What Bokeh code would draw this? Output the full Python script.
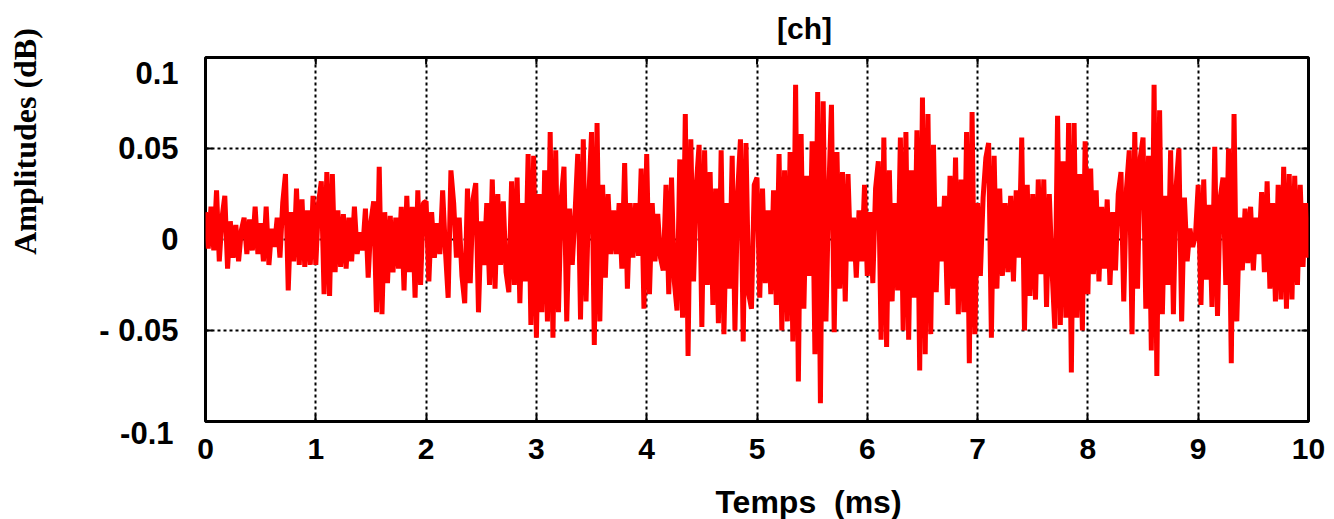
import numpy as np
from bokeh.plotting import figure
from bokeh.models import Range1d, Label, FixedTicker
from bokeh.embed import file_html
from bokeh.resources import INLINE

# sample step (ms) of the recorded signal
dt = 0.025

# amplitudes, one list per millisecond
amp_0_1ms = [0.015, -0.005, 0.018, -0.006, 0.027, -0.012, 0.012, 0.024, -0.016, 0.010,
             -0.010, 0.008, -0.012, 0.005, 0.012, -0.008, 0.011, -0.006, 0.018, -0.008,
             0.009, -0.012, 0.018, -0.014, 0.006, -0.004, 0.012, -0.010, 0.020, 0.036,
             -0.028, 0.015, -0.012, 0.028, -0.014, 0.022, -0.015, 0.016, -0.014, 0.024]
amp_1_2ms = [-0.014, 0.020, 0.032, -0.030, 0.037, -0.031, 0.036, -0.018, 0.016, -0.015,
             0.014, -0.016, 0.012, -0.012, 0.018, -0.008, 0.004, -0.006, 0.017, -0.021,
             0.010, 0.021, -0.040, 0.040, -0.041, 0.015, -0.024, 0.013, -0.018, 0.012,
             -0.016, 0.018, -0.028, 0.024, -0.018, 0.018, -0.032, 0.027, -0.025, 0.020]
amp_2_3ms = [0.021, -0.023, 0.015, -0.010, 0.009, -0.008, 0.027, -0.006, -0.032, 0.038,
             0.020, -0.010, 0.012, -0.020, -0.035, 0.028, -0.024, 0.022, 0.031, -0.040,
             0.010, -0.014, 0.020, -0.025, 0.033, -0.027, 0.025, -0.014, 0.021, -0.018,
             -0.029, 0.032, -0.025, 0.034, -0.035, 0.020, -0.023, 0.047, -0.047, 0.046]
amp_3_4ms = [-0.054, 0.025, -0.040, 0.038, -0.045, 0.059, -0.054, 0.049, -0.040, 0.022,
             0.040, -0.045, 0.017, -0.014, 0.014, 0.047, -0.044, 0.055, -0.034, 0.023,
             0.059, -0.058, 0.064, -0.045, 0.030, -0.021, 0.025, -0.008, 0.016, -0.008,
             0.020, -0.016, 0.042, -0.027, 0.020, -0.010, 0.020, -0.009, 0.039, -0.038]
amp_4_5ms = [0.047, -0.030, 0.020, -0.012, 0.014, -0.010, -0.017, 0.030, -0.030, 0.034,
             -0.023, -0.039, 0.044, -0.043, 0.069, -0.064, 0.055, -0.023, 0.030, 0.052,
             -0.048, 0.049, -0.025, 0.037, -0.036, 0.028, -0.046, 0.049, -0.052, 0.020,
             -0.027, 0.046, -0.050, 0.026, 0.055, -0.056, 0.053, -0.030, -0.038, 0.030]
amp_5_6ms = [0.034, -0.032, 0.028, -0.024, 0.016, -0.030, 0.027, -0.036, 0.047, -0.050,
             0.038, -0.045, 0.048, -0.056, 0.085, -0.078, 0.058, -0.038, 0.035, -0.020,
             0.054, -0.063, 0.081, -0.090, 0.076, -0.045, 0.024, 0.074, -0.051, 0.048,
             -0.027, 0.037, -0.034, 0.036, -0.012, 0.012, -0.021, 0.016, -0.012, 0.030]
amp_6_7ms = [-0.020, 0.015, -0.024, 0.028, 0.043, -0.055, 0.056, -0.059, 0.038, -0.034,
             0.020, -0.028, 0.056, -0.050, 0.059, -0.055, 0.038, -0.032, 0.060, -0.072,
             0.078, -0.063, 0.069, -0.052, 0.052, -0.029, 0.018, -0.012, 0.024, -0.036,
             0.035, -0.027, 0.045, -0.041, 0.033, -0.040, 0.059, -0.068, 0.070, -0.052]
amp_7_8ms = [0.020, -0.020, 0.023, 0.045, 0.053, -0.054, 0.046, -0.027, 0.028, -0.020,
             0.020, -0.018, 0.024, -0.023, 0.027, -0.010, 0.056, -0.050, 0.030, -0.031,
             0.025, -0.033, 0.033, -0.019, 0.033, -0.037, 0.025, -0.017, -0.049, 0.068,
             -0.047, 0.043, -0.043, 0.064, -0.073, 0.064, -0.043, 0.036, -0.050, 0.054]
amp_8_9ms = [-0.030, 0.039, -0.019, 0.027, -0.023, 0.018, -0.016, 0.022, -0.025, 0.015,
             -0.017, 0.025, 0.037, -0.034, 0.028, 0.049, -0.052, 0.059, -0.027, 0.045,
             0.056, -0.038, 0.046, -0.061, 0.085, -0.075, 0.071, -0.041, 0.024, -0.025,
             0.049, -0.041, 0.029, 0.050, -0.045, 0.023, -0.012, 0.006, -0.004, 0.002]
amp_9_10ms = [0.030, -0.036, 0.033, -0.022, 0.019, -0.037, 0.051, -0.042, 0.023, 0.034,
              -0.025, 0.050, -0.068, 0.069, -0.045, 0.012, -0.017, 0.017, -0.013, 0.018,
              -0.017, 0.012, -0.008, 0.026, -0.018, 0.032, -0.027, 0.020, -0.034, 0.030,
              -0.033, 0.040, -0.038, 0.036, -0.033, 0.035, -0.025, 0.030, -0.015, 0.020,
              -0.010]

amplitude = (amp_0_1ms + amp_1_2ms + amp_2_3ms + amp_3_4ms + amp_4_5ms +
             amp_5_6ms + amp_6_7ms + amp_7_8ms + amp_8_9ms + amp_9_10ms)
time_ms = [i * dt for i in range(len(amplitude))]

x_ticks = [0, 1, 2, 3, 4, 5, 6, 7, 8, 9, 10]
y_ticks = [-0.05, 0, 0.05, 0.1]
y_tick_labels = ["- 0.05", "0", "0.05", "0.1"]
y_bottom_tick = -0.1
y_bottom_label = "-0.1"
y_grid = [-0.05, 0, 0.05]

title_text = "[ch]"
x_label = "Temps\u00a0\u00a0(ms)"
y_label = "Amplitudes (dB)"

W, H = 1334, 519
BL, BR, BT, BB = 205, 26, 57, 98   # borders around the plot frame
frame_h = H - BT - BB
frame_w = W - BL - BR
px_y = 0.2 / frame_h      # data units per pixel
px_x = 10.0 / frame_w


def cx(px):   # canvas pixel column -> data x
    return (px - BL) * px_x


def cy(py):   # canvas pixel row -> data y
    return 0.1 - (py - BT) * px_y


p = figure(width=W, height=H, x_range=Range1d(0, 10), y_range=Range1d(-0.1, 0.1),
           output_backend="svg", toolbar_location=None,
           min_border_left=BL, min_border_right=BR, min_border_top=BT,
           min_border_bottom=BB)
p.background_fill_color = "white"
p.border_fill_color = "white"
p.outline_line_color = "black"
p.outline_line_width = 3
p.outline_line_alpha = 1.0

# inward tick marks at the top, left and right frame edges
n = len(x_ticks)
p.segment(x0=x_ticks, y0=[0.1] * n, x1=x_ticks, y1=[0.1 - 7 * px_y] * n,
          line_color="black", line_width=2)
m = len(y_grid)
p.segment(x0=[10] * m, y0=y_grid, x1=[10 - 7 * px_x] * m, y1=y_grid,
          line_color="black", line_width=2)
p.segment(x0=[0] * m, y0=y_grid, x1=[7 * px_x] * m, y1=y_grid,
          line_color="black", line_width=2)

p.line(time_ms, amplitude, line_color="#ff0000", line_width=5)

FONT = "Liberation Sans"

# x axis
for ax in p.xaxis:
    ax.ticker = FixedTicker(ticks=x_ticks)
    ax.major_label_overrides = {t: str(t) for t in x_ticks}
    ax.major_label_text_font_size = "30px"
    ax.axis_line_color = "black"
    ax.axis_line_width = 3
    ax.major_tick_in = 7
    ax.major_tick_out = 0
    ax.major_tick_line_width = 2
    ax.major_label_standoff = 17

# y axis: the top label sits a little below the frame edge in the original
label_shift = {0.1: -16 * px_y}
y_label_pos = [v + label_shift.get(v, 0.0) for v in y_ticks]
for ax in p.yaxis:
    ax.ticker = FixedTicker(ticks=y_label_pos)
    ax.major_label_overrides = dict(zip(y_label_pos, y_tick_labels))
    ax.major_label_text_font_size = "31px"
    ax.axis_line_color = None
    ax.major_tick_line_color = None
    ax.major_label_standoff = 21

for ax in list(p.xaxis) + list(p.yaxis):
    ax.minor_tick_line_color = None
    ax.major_label_text_font = FONT
    ax.major_label_text_font_style = "bold"
    ax.major_label_text_color = "black"

p.xgrid.ticker = FixedTicker(ticks=x_ticks)
p.ygrid.ticker = FixedTicker(ticks=y_grid)
for g in (p.xgrid, p.ygrid):
    g.grid_line_color = "black"
    g.grid_line_dash = "3 3"
    g.grid_line_width = 2
    g.grid_line_alpha = 1.0

# bottom y label, just below the frame
p.add_layout(Label(x=cx(173), y=y_bottom_tick - 11 * px_y, x_units="data", y_units="data",
                   text=y_bottom_label, text_align="right", text_baseline="middle",
                   text_font=FONT, text_font_style="bold", text_font_size="31px",
                   text_color="black"), "left")

# outer texts
p.add_layout(Label(x=cx(804), y=cy(28), x_units="data", y_units="data", text=title_text,
                   text_align="center", text_baseline="middle", text_font=FONT,
                   text_font_style="bold", text_font_size="30px", text_color="black"),
             "above")
p.add_layout(Label(x=cx(808), y=cy(501), x_units="data", y_units="data", text=x_label,
                   text_align="center", text_baseline="alphabetic", text_font=FONT,
                   text_font_style="bold", text_font_size="32px", text_color="black"),
             "below")
p.add_layout(Label(x=cx(24), y=cy(141), x_units="data", y_units="data", text=y_label,
                   angle=np.pi / 2, text_align="center", text_baseline="middle",
                   text_font="Liberation Serif", text_font_style="bold",
                   text_font_size="32px", text_color="black"), "left")

open("out.html", "w").write(file_html(p, INLINE))
